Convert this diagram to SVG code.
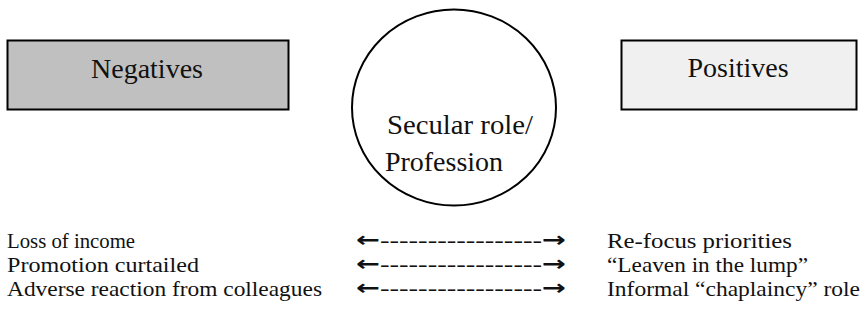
<svg xmlns="http://www.w3.org/2000/svg" width="863" height="321" viewBox="0 0 863 321">
  <style>
    text { font-family: "Liberation Serif", "Times New Roman", serif; fill: #111; }
    .box { stroke: #000; stroke-width: 2; }
    .title { font-size: 28px; text-anchor: middle; }
    .item { font-size: 21px; }
    .arrow { font-size: 21px; }
    .head { font-family: "DejaVu Sans", sans-serif; font-weight: bold; }
  </style>
  <rect width="863" height="321" fill="#fff"/>

  <g id="negatives">
    <rect class="box" x="7.5" y="40.5" width="281" height="69" fill="#c0c0c0"/>
    <text class="title" x="147" y="78">Negatives</text>
  </g>

  <g id="secular-role">
    <ellipse cx="454" cy="107.5" rx="102" ry="98" fill="#fff" stroke="#000" stroke-width="2"/>
    <text class="title" x="460" y="134" textLength="146" lengthAdjust="spacingAndGlyphs">Secular role/</text>
    <text class="title" x="444" y="171">Profession</text>
  </g>

  <g id="positives">
    <rect class="box" x="621.5" y="40.5" width="235" height="69" fill="#f0f0f0"/>
    <text class="title" x="738" y="77">Positives</text>
  </g>

  <g id="negative-items">
    <text class="item" x="7" y="248" textLength="128" lengthAdjust="spacingAndGlyphs">Loss of income</text>
    <text class="item" x="7" y="272" textLength="192" lengthAdjust="spacingAndGlyphs">Promotion curtailed</text>
    <text class="item" x="7" y="296" textLength="315" lengthAdjust="spacingAndGlyphs">Adverse reaction from colleagues</text>
  </g>

  <g id="connectors">
    <text class="arrow" x="356" y="247" textLength="210" lengthAdjust="spacingAndGlyphs"><tspan class="head">←</tspan>-----------------<tspan class="head">→</tspan></text>
    <text class="arrow" x="356" y="271" textLength="210" lengthAdjust="spacingAndGlyphs"><tspan class="head">←</tspan>-----------------<tspan class="head">→</tspan></text>
    <text class="arrow" x="356" y="295" textLength="210" lengthAdjust="spacingAndGlyphs"><tspan class="head">←</tspan>-----------------<tspan class="head">→</tspan></text>
  </g>

  <g id="positive-items">
    <text class="item" x="607" y="248" textLength="185" lengthAdjust="spacingAndGlyphs">Re-focus priorities</text>
    <text class="item" x="607" y="272" textLength="201" lengthAdjust="spacingAndGlyphs">“Leaven in the lump”</text>
    <text class="item" x="607" y="296" textLength="253" lengthAdjust="spacingAndGlyphs">Informal “chaplaincy” role</text>
  </g>
</svg>
